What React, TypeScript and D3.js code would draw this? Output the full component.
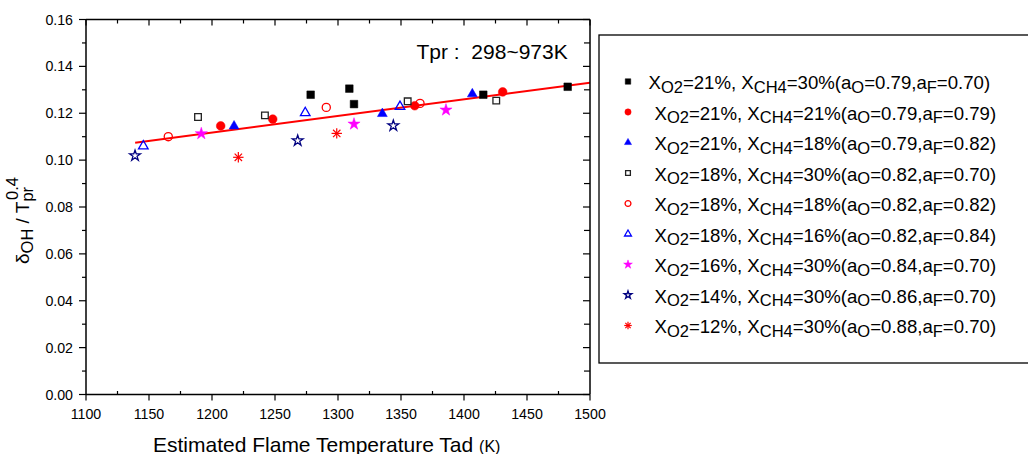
import React from "react";
import * as d3 from "d3";

// ---- data ----
const xTicks = [1100, 1150, 1200, 1250, 1300, 1350, 1400, 1450, 1500];
const yTicks = [0.0, 0.02, 0.04, 0.06, 0.08, 0.1, 0.12, 0.14, 0.16];

const s1BlackSquare: [number, number][] = [[1278.3, 0.1279], [1309, 0.1305], [1312.7, 0.1239], [1415.3, 0.1279], [1482.3, 0.1313]];
const s2RedCircle: [number, number][] = [[1206.9, 0.1146], [1248.2, 0.1175], [1360.9, 0.1232], [1430.7, 0.1291]];
const s3BlueTriangle: [number, number][] = [[1217.5, 0.1145], [1335.2, 0.1198], [1406.6, 0.1282]];
const s4OpenSquare: [number, number][] = [[1188.9, 0.1184], [1242, 0.1191], [1355.3, 0.1251], [1425.6, 0.1254]];
const s5OpenCircle: [number, number][] = [[1165.3, 0.11], [1290.7, 0.1225], [1365.1, 0.1242]];
const s6OpenTriangle: [number, number][] = [[1145.5, 0.106], [1274, 0.1202], [1349.2, 0.1228]];
const s7MagentaStar: [number, number][] = [[1191.5, 0.1113], [1312.7, 0.1154], [1385.7, 0.1214]];
const s8NavyStar: [number, number][] = [[1138.9, 0.1019], [1268, 0.1083], [1343.9, 0.1147]];
const s9RedAsterisk: [number, number][] = [[1220.9, 0.1012], [1299, 0.1114]];

const fitLine: [number, number][] = [[1139, 0.1074], [1500, 0.133]];

const legendLabels = [
  "X_{O2}=21%, X_{CH4}=30%(a_{O}=0.79,a_{F}=0.70)",
  "X_{O2}=21%, X_{CH4}=21%(a_{O}=0.79,a_{F}=0.79)",
  "X_{O2}=21%, X_{CH4}=18%(a_{O}=0.79,a_{F}=0.82)",
  "X_{O2}=18%, X_{CH4}=30%(a_{O}=0.82,a_{F}=0.70)",
  "X_{O2}=18%, X_{CH4}=18%(a_{O}=0.82,a_{F}=0.82)",
  "X_{O2}=18%, X_{CH4}=16%(a_{O}=0.82,a_{F}=0.84)",
  "X_{O2}=16%, X_{CH4}=30%(a_{O}=0.84,a_{F}=0.70)",
  "X_{O2}=14%, X_{CH4}=30%(a_{O}=0.86,a_{F}=0.70)",
  "X_{O2}=12%, X_{CH4}=30%(a_{O}=0.88,a_{F}=0.70)",
];

// ---- layout ----
const W = 1028, H = 454;
const L = 86, R = 590, T = 19.5, B = 394.5;
const FONT = "Arial, 'Liberation Sans', sans-serif";

const x = d3.scaleLinear().domain([1100, 1500]).range([L, R]);
const y = d3.scaleLinear().domain([0, 0.16]).range([B, T]);

type Kind = "fsq" | "fci" | "ftr" | "osq" | "oci" | "otr" | "fst" | "ost" | "ast";

const series: { data: [number, number][]; kind: Kind; color: string }[] = [
  { data: s1BlackSquare, kind: "fsq", color: "#000000" },
  { data: s2RedCircle, kind: "fci", color: "#ff0000" },
  { data: s3BlueTriangle, kind: "ftr", color: "#0000ff" },
  { data: s4OpenSquare, kind: "osq", color: "#222222" },
  { data: s5OpenCircle, kind: "oci", color: "#ff0000" },
  { data: s6OpenTriangle, kind: "otr", color: "#0000ff" },
  { data: s7MagentaStar, kind: "fst", color: "#ff00ff" },
  { data: s8NavyStar, kind: "ost", color: "#000080" },
  { data: s9RedAsterisk, kind: "ast", color: "#ff0000" },
];

function Marker({ kind, color, cx, cy, k }: { kind: Kind; color: string; cx: number; cy: number; k: number }) {
  const tr = `translate(${cx},${cy})`;
  const filled = kind === "fsq" || kind === "fci" || kind === "ftr" || kind === "fst";
  if (kind === "ast") {
    const r = 5.2 * k;
    const d = r * Math.SQRT1_2;
    return (
      <g transform={tr} stroke={color} strokeWidth={1.2}>
        <line x1={0} y1={-r} x2={0} y2={r} />
        <line x1={-r} y1={0} x2={r} y2={0} />
        <line x1={-d} y1={-d} x2={d} y2={d} />
        <line x1={-d} y1={d} x2={d} y2={-d} />
      </g>
    );
  }
  let type: d3.SymbolType = d3.symbolSquare;
  let size = 49;
  if (kind === "fsq" || kind === "osq") { type = d3.symbolSquare; size = kind === "fsq" ? 58 : 44; }
  if (kind === "fci" || kind === "oci") { type = d3.symbolCircle; size = kind === "fci" ? 60 : 52; }
  if (kind === "ftr" || kind === "otr") { type = d3.symbolTriangle; size = kind === "ftr" ? 42 : 40; }
  if (kind === "fst" || kind === "ost") { type = d3.symbolStar; size = kind === "fst" ? 46 : 36; }
  const p = d3.symbol().type(type).size(size * k * k)() as string;
  return (
    <path
      transform={tr}
      d={p}
      fill={filled ? color : "none"}
      stroke={color}
      strokeWidth={filled ? 0.5 : 1.3}
      strokeLinejoin="miter"
    />
  );
}

function parseRich(s: string): { t: string; sub: boolean }[] {
  const out: { t: string; sub: boolean }[] = [];
  const re = /_\{([^}]*)\}/g;
  let last = 0;
  let m: RegExpExecArray | null;
  while ((m = re.exec(s))) {
    if (m.index > last) out.push({ t: s.slice(last, m.index), sub: false });
    out.push({ t: m[1], sub: true });
    last = re.lastIndex;
  }
  if (last < s.length) out.push({ t: s.slice(last), sub: false });
  return out;
}

function RichText({ s, xx, yy, size, subSize, shift }: { s: string; xx: number; yy: number; size: number; subSize: number; shift: number }) {
  const parts = parseRich(s);
  let cur = 0;
  return (
    <text x={xx} y={yy} fontSize={size} fontFamily={FONT} fill="#000">
      {parts.map((p, i) => {
        const dy = p.sub ? shift - cur : -cur;
        cur = p.sub ? shift : 0;
        return (
          <tspan key={i} dy={dy} fontSize={p.sub ? subSize : size}>
            {p.t}
          </tspan>
        );
      })}
    </text>
  );
}

export default function App() {
  const xMinor = d3.range(1125, 1500, 50);
  const yMinor = d3.range(0.01, 0.16, 0.02);
  const line = d3.line<[number, number]>().x((d) => x(d[0])).y((d) => y(d[1]));
  const legendX = 628;
  const legendY0 = 81.5;
  const legendDy = 30.5;
  return (
    <svg width={W} height={H} style={{ position: "absolute", left: 0, top: 0, background: "#fff" }}>
      <rect x={0} y={0} width={W} height={H} fill="#fff" />
      <defs>
        <clipPath id="plotclip">
          <rect x={L} y={T} width={R - L} height={B - T} />
        </clipPath>
      </defs>
      {/* fit line */}
      <path d={line(fitLine) as string} stroke="#ff0000" strokeWidth={2} fill="none" clipPath="url(#plotclip)" />
      {/* markers */}
      {series.map((s, si) =>
        s.data.map((d, i) => (
          <Marker key={`${si}-${i}`} kind={s.kind} color={s.color} cx={x(d[0])} cy={y(d[1])} k={1} />
        ))
      )}
      {/* axes frame */}
      <g stroke="#000" strokeWidth={1.5} fill="none">
        <line x1={L} y1={B} x2={R} y2={B} />
        <line x1={L} y1={T} x2={R} y2={T} />
        <line x1={L} y1={T} x2={L} y2={B} />
        <line x1={R} y1={T} x2={R} y2={B} />
      </g>
      {/* ticks */}
      <g stroke="#000" strokeWidth={1.2}>
        {xTicks.map((t) => (
          <g key={t}>
            <line x1={x(t)} y1={B} x2={x(t)} y2={B + 6} />
            <line x1={x(t)} y1={T} x2={x(t)} y2={T + 6} />
          </g>
        ))}
        {xMinor.map((t) => (
          <g key={t}>
            <line x1={x(t)} y1={B} x2={x(t)} y2={B - 3.5} />
            <line x1={x(t)} y1={T} x2={x(t)} y2={T + 4} />
          </g>
        ))}
        {yTicks.map((t) => (
          <g key={t}>
            <line x1={L} y1={y(t)} x2={L - 7} y2={y(t)} />
            <line x1={R} y1={y(t)} x2={R - 7} y2={y(t)} />
          </g>
        ))}
        {yMinor.map((t) => (
          <g key={t}>
            <line x1={L} y1={y(t)} x2={L - 4} y2={y(t)} />
            <line x1={R} y1={y(t)} x2={R - 6} y2={y(t)} />
          </g>
        ))}
      </g>
      {/* tick labels */}
      <g fontFamily={FONT} fontSize={14.2} fill="#000">
        {xTicks.map((t) => (
          <text key={t} x={x(t)} y={418.5} textAnchor="middle">
            {t}
          </text>
        ))}
        {yTicks.map((t) => (
          <text key={t} x={73} y={y(t) + 5} textAnchor="end">
            {d3.format(".2f")(t)}
          </text>
        ))}
      </g>
      {/* x title */}
      <text x={153} y={451.5} fontFamily={FONT} fontSize={21} fill="#000">
        Estimated Flame Temperature Tad <tspan fontSize={16}>(K)</tspan>
      </text>
      {/* y title */}
      <g transform="translate(29,264) rotate(-90)">
        <text x={0} y={0} fontFamily={FONT} fontSize={19} fill="#000">
          <tspan>δ</tspan>
          <tspan dy={4} fontSize={16.5}>OH</tspan>
          <tspan dy={-4}> / T</tspan>
          <tspan dy={4} fontSize={16.5}>pr</tspan>
        </text>
        <text x={64} y={-11} fontFamily={FONT} fontSize={16.5} fill="#000">0.4</text>
      </g>
      {/* annotation */}
      <text x={416.5} y={59} fontFamily={FONT} fontSize={21} fill="#000" style={{ whiteSpace: "pre" }}>
        {"Tpr :  298~973K"}
      </text>
      {/* legend */}
      <rect x={599} y={35} width={440} height={328} fill="#fff" stroke="#000" strokeWidth={1.3} />
      {series.map((s, i) => (
        <g key={i}>
          <Marker kind={s.kind} color={s.color} cx={legendX} cy={legendY0 + i * legendDy} k={0.72} />
          <RichText
            s={legendLabels[i]}
            xx={i === 0 ? 648.5 : 654.5}
            yy={legendY0 + i * legendDy + 7.5}
            size={18.6}
            subSize={16.5}
            shift={3.5}
          />
        </g>
      ))}
    </svg>
  );
}
